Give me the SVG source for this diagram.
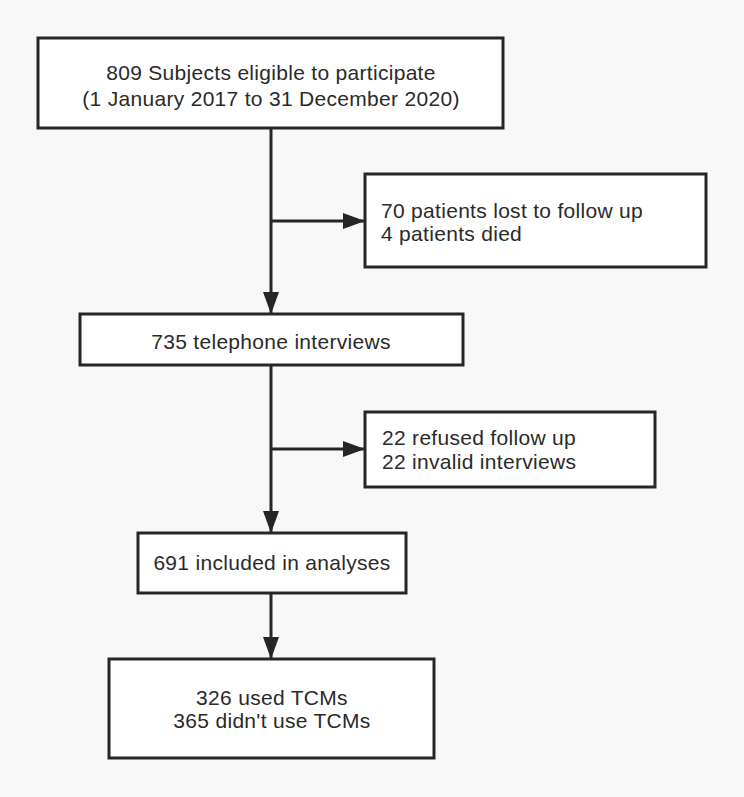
<svg xmlns="http://www.w3.org/2000/svg" width="744" height="797" viewBox="0 0 744 797">
<style>
.box{fill:#ffffff;stroke:#262626;stroke-width:3}
.t{font-family:"Liberation Sans",Arial,Helvetica,sans-serif;font-size:21px;fill:#2a2a2a;letter-spacing:0.3px}
.c{text-anchor:middle}
.ln{stroke:#262626;stroke-width:3;fill:none}
</style>
<defs>
<marker id="ah" markerUnits="userSpaceOnUse" markerWidth="22" markerHeight="16" refX="22" refY="8" orient="auto">
<path d="M0,0 L22,8 L0,16 Z" fill="#262626"/>
</marker>
</defs>
<rect width="744" height="797" fill="#f8f8f8"/>
<g id="connectors">
<line class="ln" x1="271" y1="128" x2="271" y2="314" marker-end="url(#ah)"/>
<line class="ln" x1="271" y1="221" x2="365" y2="221" marker-end="url(#ah)"/>
<line class="ln" x1="271" y1="365" x2="271" y2="533" marker-end="url(#ah)"/>
<line class="ln" x1="271" y1="449" x2="365" y2="449" marker-end="url(#ah)"/>
<line class="ln" x1="271" y1="593" x2="271" y2="659" marker-end="url(#ah)"/>
</g>
<g id="eligible">
<rect class="box" x="38" y="38" width="465" height="90"/>
<text class="t c" x="271" y="80">809 Subjects eligible to participate</text>
<text class="t c" x="271" y="106">(1 January 2017 to 31 December 2020)</text>
</g>
<g id="lost">
<rect class="box" x="365" y="174" width="341" height="93"/>
<text class="t" x="381" y="218">70 patients lost to follow up</text>
<text class="t" x="381" y="241">4 patients died</text>
</g>
<g id="telephone">
<rect class="box" x="80" y="314" width="383" height="51"/>
<text class="t c" x="271" y="349">735 telephone interviews</text>
</g>
<g id="refused">
<rect class="box" x="365" y="412" width="290" height="75"/>
<text class="t" x="382" y="445">22 refused follow up</text>
<text class="t" x="382" y="469">22 invalid interviews</text>
</g>
<g id="included">
<rect class="box" x="138" y="533" width="268" height="60"/>
<text class="t c" x="272" y="570">691 included in analyses</text>
</g>
<g id="tcm">
<rect class="box" x="109" y="659" width="325" height="99"/>
<text class="t c" x="272" y="705">326 used TCMs</text>
<text class="t c" x="272" y="728">365 didn't use TCMs</text>
</g>
</svg>
